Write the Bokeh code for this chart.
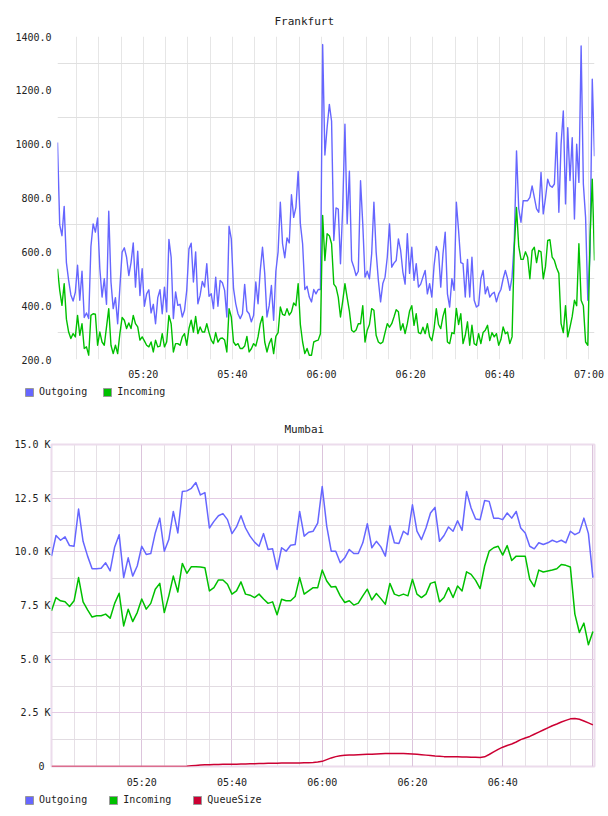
import numpy as np
from bokeh.plotting import figure
from bokeh.models import (FixedTicker, PrintfTickFormatter, Legend, LegendItem,
                          Range1d, ColumnDataSource)
from bokeh.embed import file_html
from bokeh.resources import INLINE

# ---------------------------------------------------------------- data
# Frankfurt: one sample every 30 s starting at 05:00:45
frankfurt_start = "05:00:45"
frankfurt_step_s = 30
frankfurt_outgoing = [
    1006, 700, 660, 769, 560, 494, 440, 417, 450, 550, 420, 528, 356, 373, 352, 620,
    704, 673, 726, 537, 432, 500, 405, 751, 488, 389, 430, 333, 469, 599, 615, 580,
    512, 560, 633, 469, 602, 438, 537, 398, 444, 459, 373, 405, 333, 430, 459, 370,
    469, 377, 646, 580, 352, 451, 401, 405, 358, 383, 457, 611, 632,
    488, 600, 407, 438, 490, 469, 556, 435, 444, 389, 506, 398, 494, 485, 457, 358,
    695, 648, 463, 407, 370, 352, 370, 479, 380, 370, 340, 364, 488, 407, 531, 617,
    520, 358, 400, 475, 346, 528, 600, 784, 630, 578, 652, 633, 812, 728, 765, 899,
    704, 630, 460, 472, 432, 414, 460, 444, 460, 460, 1370, 960,
    1062, 1148, 1086, 642, 763, 759, 556, 765, 1074, 704, 900, 568, 543, 512, 528, 864,
    704, 506, 528, 500, 593, 784, 600, 494, 414, 482, 506, 580, 704, 543, 558, 568,
    648, 605, 525, 480, 667, 520, 617, 494, 556, 469, 480, 506, 531, 444, 482, 432,
    549, 620, 600, 469, 593, 673, 444, 395, 500, 457, 784, 679,
    560, 556, 432, 572, 432, 580, 420, 395, 401, 500, 531, 444, 470, 432, 444, 450,
    414, 444, 460, 500, 531, 500, 457, 506, 640, 975, 760, 710, 790, 790, 790, 802,
    845, 802, 760, 747, 895, 741, 800, 870, 846, 840, 852, 1043, 747, 1000, 1123, 778,
    1061, 865, 1024, 722, 1000, 858, 1365, 852, 728, 420, 600, 1241, 955,
]
frankfurt_incoming = [
    537, 457, 401, 482, 350, 302, 278, 296, 284, 364, 290, 333, 241, 247, 216, 364,
    370, 368, 253, 302, 265, 253, 321, 389, 253, 222, 253, 222, 296, 356, 346, 315,
    336, 315, 364, 333, 321, 272, 284, 269, 253, 247, 265, 228, 272, 247, 250, 296,
    247, 265, 364, 333, 228, 259, 259, 253, 284, 296, 253, 315, 346,
    302, 360, 296, 321, 302, 302, 333, 300, 272, 259, 300, 265, 278, 280, 272, 228,
    389, 358, 265, 253, 259, 241, 241, 250, 286, 228, 240, 259, 250, 284, 333, 360,
    265, 228, 259, 278, 222, 286, 300, 395, 368, 364, 389, 365, 377, 410, 400, 482,
    330, 265, 222, 241, 216, 216, 265, 269, 272, 296, 735, 568,
    667, 660, 630, 480, 469, 432, 358, 417, 482, 430, 380, 309, 302, 310, 333, 333,
    400, 265, 309, 330, 389, 383, 290, 265, 259, 265, 300, 333, 320, 333, 358, 385,
    377, 309, 333, 296, 333, 380, 400, 327, 370, 300, 296, 320, 296, 333, 285, 270,
    315, 389, 330, 315, 360, 390, 265, 259, 300, 296, 390, 330,
    370, 259, 290, 340, 253, 327, 259, 253, 296, 259, 300, 309, 327, 270, 300, 284,
    296, 253, 274, 321, 296, 302, 259, 284, 617, 765, 620, 572, 572, 600, 580, 500,
    605, 617, 560, 605, 600, 500, 545, 642, 645, 580, 568, 540, 520, 333, 300, 400,
    284, 320, 360, 420, 400, 630, 420, 400, 265, 253, 654, 870, 568,
]
frankfurt_y_labels = [200, 400, 600, 800, 1000, 1200, 1400]
frankfurt_y_grid = [300, 500, 700, 900, 1100, 1300]
frankfurt_time_labels = ["05:20", "05:40", "06:00", "06:20", "06:40", "07:00"]

# Mumbai: one sample per minute from 05:00, values in thousands
mumbai_start = "05:00"
mumbai_step_s = 60
mumbai_outgoing = [
    9.80, 10.76, 10.54, 10.70, 10.29, 10.26, 11.99, 10.49, 9.80, 9.21, 9.21, 9.24,
    9.49, 9.11, 10.23, 10.80, 8.80, 9.72, 8.87, 9.34, 10.26, 9.88, 9.92, 10.88,
    11.57, 10.03, 10.57, 11.88, 10.88, 12.81, 12.84, 12.96, 13.23, 12.65, 12.76, 11.11,
    11.42, 11.68, 11.78, 11.50, 10.85, 11.16, 11.68, 11.11, 10.73, 10.45, 10.26, 10.85,
    10.11, 10.14, 9.18, 10.19, 10.03, 10.31, 10.34, 11.88, 10.73, 10.91, 10.96, 11.34,
    13.04, 11.20, 10.03, 10.03, 9.49, 9.72, 10.11, 9.92, 9.92, 10.42, 11.31, 10.19,
    10.49, 10.23, 9.80, 11.22, 10.42, 10.39, 10.96, 10.80, 12.19, 10.96, 10.57, 11.11,
    11.81, 12.07, 10.49, 10.76, 11.16, 10.96, 11.45, 11.00, 12.81, 12.04, 11.53, 11.50,
    12.39, 12.35, 11.57, 11.57, 11.50, 11.81, 11.57, 11.88, 11.11, 10.88, 10.26, 10.14,
    10.42, 10.34, 10.42, 10.54, 10.45, 10.54, 10.42, 10.96, 10.80, 10.91, 11.57, 10.85,
    8.80,
]
mumbai_incoming = [
    7.25, 7.87, 7.72, 7.67, 7.45, 7.72, 8.80, 7.67, 7.30, 6.96, 7.02, 7.02,
    7.10, 6.91, 7.60, 8.07, 6.55, 7.33, 6.75, 7.17, 7.80, 7.33, 7.60, 8.26,
    8.53, 7.17, 7.95, 8.87, 8.13, 9.46, 9.00, 9.31, 9.31, 9.29, 9.26, 8.18,
    8.33, 8.69, 8.69, 8.49, 8.03, 8.18, 8.60, 8.03, 7.98, 7.87, 8.03, 7.80,
    7.60, 7.67, 7.07, 7.79, 7.72, 7.72, 7.92, 8.80, 8.03, 8.18, 8.33, 8.33,
    9.15, 8.64, 8.36, 8.38, 7.95, 7.64, 7.72, 7.52, 7.61, 7.95, 8.26, 7.76,
    8.06, 7.82, 7.56, 8.53, 8.03, 7.95, 8.03, 7.95, 8.72, 8.03, 7.87, 8.03,
    8.53, 8.60, 7.67, 7.87, 8.33, 7.87, 8.41, 8.18, 9.07, 8.95, 8.67, 8.29,
    9.34, 10.03, 10.19, 10.26, 9.85, 10.29, 9.60, 9.80, 9.80, 9.80, 8.72, 8.38,
    9.15, 9.06, 9.11, 9.15, 9.21, 9.41, 9.37, 9.29, 7.10, 6.24, 6.68, 5.67,
    6.29,
]
mumbai_queue = [
    0.00, 0.00, 0.00, 0.00, 0.00, 0.00, 0.00, 0.00, 0.00, 0.00, 0.00, 0.00,
    0.00, 0.00, 0.00, 0.00, 0.00, 0.00, 0.00, 0.00, 0.00, 0.00, 0.00, 0.00,
    0.00, 0.00, 0.00, 0.00, 0.00, 0.00, 0.01, 0.03, 0.05, 0.07, 0.08, 0.08,
    0.09, 0.09, 0.10, 0.10, 0.11, 0.11, 0.12, 0.12, 0.13, 0.13, 0.14, 0.14,
    0.15, 0.15, 0.15, 0.16, 0.16, 0.16, 0.16, 0.16, 0.17, 0.18, 0.19, 0.21,
    0.24, 0.32, 0.40, 0.46, 0.50, 0.52, 0.53, 0.54, 0.55, 0.56, 0.57, 0.57,
    0.58, 0.59, 0.60, 0.60, 0.61, 0.61, 0.60, 0.59, 0.58, 0.57, 0.55, 0.53,
    0.51, 0.49, 0.48, 0.46, 0.46, 0.45, 0.45, 0.44, 0.44, 0.43, 0.43, 0.42,
    0.45, 0.56, 0.68, 0.80, 0.90, 0.98, 1.05, 1.14, 1.25, 1.33, 1.40, 1.50,
    1.60, 1.70, 1.80, 1.90, 1.98, 2.07, 2.15, 2.22, 2.24, 2.20, 2.12, 2.03,
    1.94,
]
mumbai_y_labels = {0: "0\u00a0", 2.5: "2.5 K", 5: "5.0 K", 7.5: "7.5 K",
                   10: "10.0 K", 12.5: "12.5 K", 15: "15.0 K"}
mumbai_time_labels = ["05:20", "05:40", "06:00", "06:20", "06:40"]

# ---------------------------------------------------------------- style
FONT = "DejaVu Sans Mono"
OUT_COLOR = "#6666ff"
IN_COLOR = "#00c000"
QUEUE_COLOR = "#cc0033"
TEXT_COLOR = "#222222"
WIDTH = 608


def clock(s):
    """'HH:MM[:SS]' -> minutes after midnight."""
    parts = [int(v) for v in s.split(":")]
    sec = parts[2] if len(parts) > 2 else 0
    return parts[0] * 60 + parts[1] + sec / 60.0


def series_times(start, step_s, n):
    return clock(start) + np.arange(n) * step_s / 60.0


def style_axes(p, x_standoff, y_standoff):
    for ax in (p.xaxis[0], p.yaxis[0]):
        ax.axis_line_color = None
        ax.major_tick_line_color = None
        ax.minor_tick_line_color = None
        ax.major_tick_out = 0
        ax.major_tick_in = 0
        ax.minor_tick_out = 0
        ax.minor_tick_in = 0
        ax.major_label_text_font = FONT
        ax.major_label_text_font_size = "10px"
        ax.major_label_text_color = TEXT_COLOR
    p.xaxis.major_label_standoff = x_standoff
    p.yaxis.major_label_standoff = y_standoff


def style_title(p, text, offset):
    p.title.text = text
    p.title.align = "left"
    p.title.offset = offset
    p.title.text_font = FONT
    p.title.text_font_size = "11px"
    p.title.text_font_style = "normal"
    p.title.text_color = TEXT_COLOR
    p.title.standoff = 18


def legend_strip(entries, left, spacing):
    """A thin figure under a chart that only holds its legend."""
    s = figure(width=WIDTH, height=26, output_backend="svg", toolbar_location=None,
               x_range=Range1d(0, 1), y_range=Range1d(0, 1),
               x_axis_location=None, y_axis_location=None,
               min_border_left=0, min_border_right=0, min_border_top=0, min_border_bottom=0)
    s.grid.visible = False
    s.outline_line_color = None
    s.background_fill_color = "white"
    s.border_fill_color = "white"
    items = []
    for label, color in entries:
        # a single off-range box; only its legend swatch is visible
        swatch = s.quad(left=[2], right=[3], top=[3], bottom=[2],
                        fill_color=color, line_color="#999999", line_width=1)
        items.append(LegendItem(label=label, renderers=[swatch]))
    legend = Legend(items=items, orientation="horizontal", location=(left, 11),
                    padding=0, margin=0, spacing=spacing,
                    glyph_width=10, glyph_height=10, label_height=10,
                    label_standoff=5, label_text_font=FONT,
                    label_text_font_size="10px", label_text_color=TEXT_COLOR,
                    border_line_color=None, background_fill_alpha=0)
    s.add_layout(legend)
    return s


# ---------------------------------------------------------------- Frankfurt
ft = series_times(frankfurt_start, frankfurt_step_s, len(frankfurt_outgoing))
fsrc = ColumnDataSource(dict(t=ft, out=frankfurt_outgoing, inc=frankfurt_incoming))

top = figure(width=WIDTH, height=382, output_backend="svg", toolbar_location=None,
             x_range=Range1d(ft[0], ft[-1]), y_range=Range1d(200, 1400),
             min_border_left=57, min_border_right=14,
             min_border_top=36, min_border_bottom=23)
top.outline_line_color = None
top.background_fill_color = "white"
top.border_fill_color = "white"
style_title(top, "Frankfurt", 217)
style_axes(top, 9, 6)

top.xaxis.ticker = FixedTicker(ticks=[int(clock(s)) for s in frankfurt_time_labels])
top.xaxis.major_label_overrides = {int(clock(s)): s for s in frankfurt_time_labels}
top.xgrid.ticker = FixedTicker(ticks=list(range(int(clock("05:05")), int(clock("07:00")) + 1, 5)))
top.xgrid.grid_line_color = "#e6e6e6"
top.yaxis.ticker = FixedTicker(ticks=frankfurt_y_labels)
top.yaxis.formatter = PrintfTickFormatter(format="%.1f")
top.ygrid.ticker = FixedTicker(ticks=frankfurt_y_grid)
top.ygrid.grid_line_color = "#e0e0e0"

top.line("t", "out", source=fsrc, line_color=OUT_COLOR, line_width=1.4, line_join="round")
top.line("t", "inc", source=fsrc, line_color=IN_COLOR, line_width=1.4, line_join="round")
top_legend = legend_strip([("Outgoing", OUT_COLOR), ("Incoming", IN_COLOR)], 24, 15)

# ---------------------------------------------------------------- Mumbai
mt = series_times(mumbai_start, mumbai_step_s, len(mumbai_outgoing))
msrc = ColumnDataSource(dict(t=mt, out=mumbai_outgoing, inc=mumbai_incoming, q=mumbai_queue))

bottom = figure(width=WIDTH, height=382, output_backend="svg", toolbar_location=None,
                x_range=Range1d(clock("05:00"), clock("07:00") + 0.35), y_range=Range1d(0, 15),
                min_border_left=51, min_border_right=14,
                min_border_top=36, min_border_bottom=24)
bottom.outline_line_color = "#ecdcec"
bottom.outline_line_width = 2
bottom.background_fill_color = "white"
bottom.border_fill_color = "white"
style_title(bottom, "Mumbai", 233)
style_axes(bottom, 10, 1)

major_t = list(range(int(clock("05:20")), int(clock("07:00")) + 1, 20))
minor_t = list(range(int(clock("05:05")), int(clock("07:00")) + 1, 5))
bottom.xaxis.ticker = FixedTicker(ticks=[int(clock(s)) for s in mumbai_time_labels])
bottom.xaxis.major_label_overrides = {int(clock(s)): s for s in mumbai_time_labels}
bottom.xgrid.ticker = FixedTicker(ticks=major_t, minor_ticks=minor_t)
bottom.xgrid.grid_line_color = "#dcc4dc"
bottom.xgrid.minor_grid_line_color = "#e6e0e6"

y_major = list(mumbai_y_labels.keys())
y_minor = [v / 100 for v in range(0, 1501, 125)]
bottom.yaxis.ticker = FixedTicker(ticks=y_major)
bottom.yaxis.major_label_overrides = mumbai_y_labels
bottom.ygrid.ticker = FixedTicker(ticks=y_major, minor_ticks=y_minor)
bottom.ygrid.grid_line_color = "#e4cce4"
bottom.ygrid.minor_grid_line_color = "#e2dce2"

bottom.line("t", "out", source=msrc, line_color=OUT_COLOR, line_width=1.5, line_join="round")
bottom.line("t", "inc", source=msrc, line_color=IN_COLOR, line_width=1.5, line_join="round")
bottom.line("t", "q", source=msrc, line_color=QUEUE_COLOR, line_width=1.5, line_join="round")
bottom_legend = legend_strip([("Outgoing", OUT_COLOR), ("Incoming", IN_COLOR),
                              ("QueueSize", QUEUE_COLOR)], 24, 21)

# independent roots stacked top to bottom, each keeping its own frame geometry
open("out.html", "w").write(file_html([top, top_legend, bottom, bottom_legend], INLINE))
